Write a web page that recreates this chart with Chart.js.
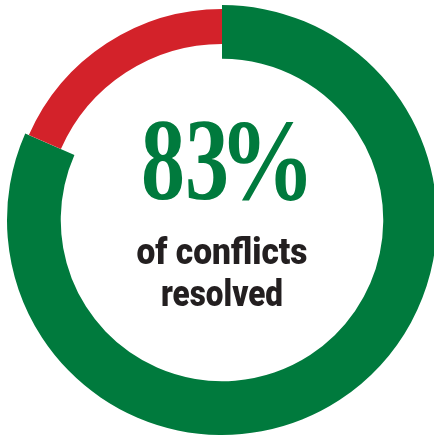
<!DOCTYPE html>
<html>
<head>
<meta charset="utf-8">
<script src="https://cdn.jsdelivr.net/npm/chart.js@4/dist/chart.umd.min.js"></script>
<style>
  html, body { margin: 0; padding: 0; background: #ffffff; overflow: hidden; }
  #wrap { position: relative; width: 434px; height: 436px; overflow: hidden; background: #ffffff; }
  #chart { position: absolute; left: 0; top: 0; }
  .lbl { position: absolute; white-space: nowrap; transform-origin: 50% 50%; }
  #big { font-family: "Liberation Serif", "DejaVu Serif", serif; font-weight: 700; font-size: 116px; line-height: 116px; color: #007a3d; top: 102px; }
  #big span { display: inline-block; transform-origin: 0 50%; }
  .sub { font-family: Roboto, "Liberation Sans", sans-serif; font-weight: 900; font-size: 37px; line-height: 37px; color: #231f20; }
  #sub1 { top: 233px; }
  #sub2 { top: 275px; }
</style>
</head>
<body>
<div id="wrap">
  <canvas id="chart" width="444" height="440"></canvas>
  <div id="big" class="lbl"><span id="num"></span><span id="pct"></span></div>
  <div id="sub1" class="lbl sub"></div>
  <div id="sub2" class="lbl sub"></div>
</div>
<script>
// ---- data ----
const categories = ["Resolved", "Unresolved"];
const shares = [81.6, 18.4];           // ring split as drawn
const colors = ["#007a3d", "#d3222a"];
const headlineValue = "83";
const headlineUnit = "%";
const captionLines = ["of conflicts", "resolved"];

// ---- texts ----
document.getElementById("num").textContent = headlineValue;
document.getElementById("pct").textContent = headlineUnit;
document.getElementById("sub1").textContent = captionLines[0];
document.getElementById("sub2").textContent = captionLines[1];

function fit(id, cx, targetW) {
  const el = document.getElementById(id);
  const w = el.getBoundingClientRect().width;
  const s = targetW / w;
  el.style.left = cx + "px";
  el.style.transform = "translateX(-50%) scaleX(" + s + ")";
}
function fitSpan(id, targetW, gapAfter) {
  const el = document.getElementById(id);
  const w = el.getBoundingClientRect().width;
  const s = targetW / w;
  el.style.transform = "scaleX(" + s + ")";
  el.style.marginRight = (targetW - w + gapAfter) + "px";
}
fitSpan("num", 88, -10);
fitSpan("pct", 96, 0);
document.getElementById("big").style.left = "141px";
fit("sub1", 222, 171);
fit("sub2", 222, 122);

// thinner ring for the second segment
const insetRing = {
  id: "insetRing",
  afterDatasetUpdate(chart) {
    const meta = chart.getDatasetMeta(0);
    const arc = meta.data[1];
    if (arc) {
      arc.outerRadius = 211;
      arc.innerRadius = 176;
    }
  }
};

new Chart(document.getElementById("chart"), {
  type: "doughnut",
  data: {
    labels: categories,
    datasets: [{
      data: shares,
      backgroundColor: colors,
      borderWidth: 0,
      hoverOffset: 0,
      offset: 0
    }]
  },
  options: {
    responsive: false,
    animation: false,
    events: [],
    radius: 215,
    cutout: 165,
    rotation: 0,
    layout: { padding: 0 },
    plugins: { legend: { display: false }, tooltip: { enabled: false } }
  },
  plugins: [insetRing]
});
</script>
</body>
</html>
